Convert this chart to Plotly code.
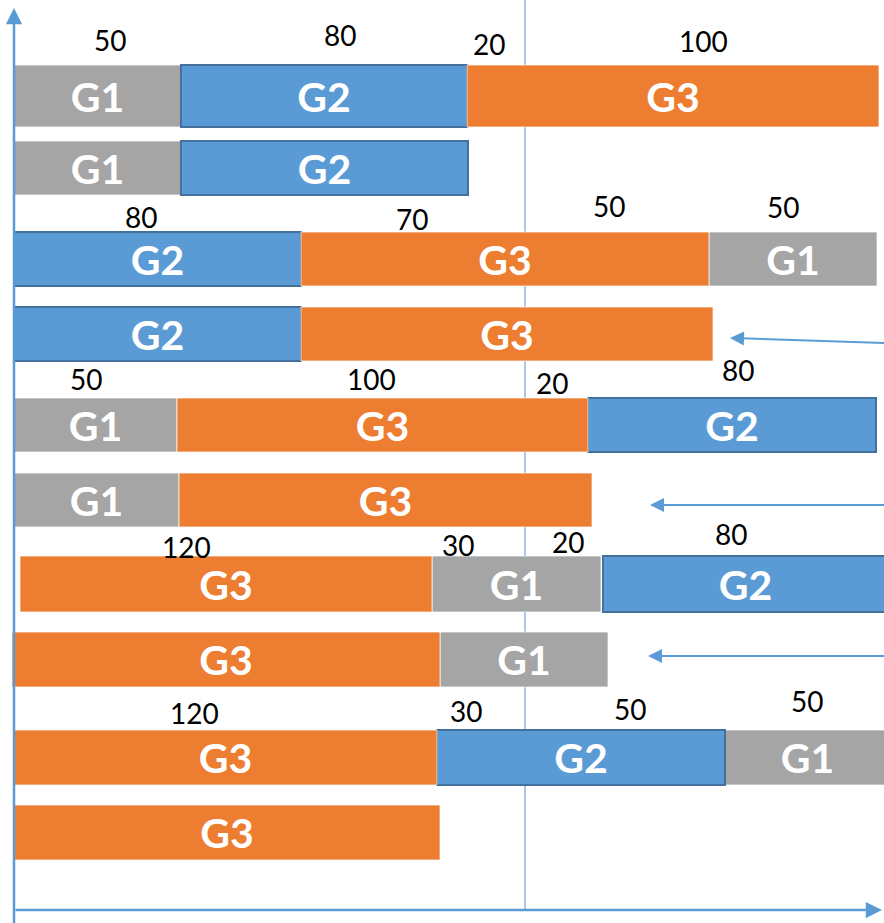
"""
Schedule sketch: three job groups (G1, G2, G3) laid out along a time axis,
ten rows, with the durations written above the first row of each pair.
"""

import plotly.graph_objects as go

# ─────────────────────────────────────────────────────────────────────────────
# DATA
# ─────────────────────────────────────────────────────────────────────────────

# row centres (top to bottom) and bar thickness per row
row_y      = [96, 168, 259, 334, 425, 500, 584, 659.5, 757.5, 832.5]
row_height = [62, 54, 54, 54, 54, 54, 56, 55, 55, 55]

# each group: which row, start, length (time units)
g1_rows  = [0, 1, 2, 4, 5, 6, 7, 8]
g1_start = [0, 0, 695, 0, 0, 418, 426, 711]
g1_len   = [167, 167, 168, 163, 165, 169, 168, 165]

g2_rows  = [0, 1, 2, 3, 4, 6, 8]
g2_start = [167, 167, 0, 0, 574, 589, 423]
g2_len   = [286, 287, 287, 287, 288, 285, 288]

g3_rows  = [0, 2, 3, 4, 5, 6, 7, 8, 9]
g3_start = [453, 287, 287, 163, 165, 6, -2, 0, 0]
g3_len   = [412, 408, 412, 411, 413, 412, 428, 423, 426]

# duration labels written above the bars
dur_text = ["50", "80", "20", "100",
            "80", "70", "50", "50",
            "50", "100", "20", "80",
            "120", "30", "20", "80",
            "120", "30", "50", "50"]
dur_x    = [96, 326, 475, 689,
            127, 398, 595, 769,
            72, 357, 538, 724,
            172, 444, 554, 717,
            180, 452, 616, 793]
dur_y    = [40, 35, 44, 41,
            217, 219, 206, 207,
            379, 379, 383, 370,
            547, 545, 542, 534,
            713, 711, 709, 701]

# incoming arrows (tip x, y) — tails sit at the right edge
arrow_tip_x  = [716, 636, 634]
arrow_tip_y  = [338, 505, 656]
arrow_tail_x = [872, 872, 872]
arrow_tail_y = [343, 505, 656]

# reference time marker
marker_x = 511

# ─────────────────────────────────────────────────────────────────────────────
# STYLE
# ─────────────────────────────────────────────────────────────────────────────

GRAY   = "#A5A5A5"
BLUE   = "#5B9BD5"
ORANGE = "#ED7D31"
AXIS   = "#5B9BD5"
FONT   = "Lato"

groups = [
    ("G1", g1_rows, g1_start, g1_len, GRAY,   dict(color="rgba(255,255,255,0.7)", width=1)),
    ("G2", g2_rows, g2_start, g2_len, BLUE,   dict(color="#41719C", width=2)),
    ("G3", g3_rows, g3_start, g3_len, ORANGE, dict(color="rgba(255,255,255,0.7)", width=1)),
]

fig = go.Figure()

for name, rows, starts, lens, color, outline in groups:
    fig.add_trace(
        go.Bar(
            orientation      = "h",
            y                = [row_y[r] for r in rows],
            x                = lens,
            base             = starts,
            width            = [row_height[r] for r in rows],
            name             = name,
            text             = [name] * len(rows),
            textposition     = "inside",
            insidetextanchor = "middle",
            constraintext    = "none",
            textfont         = dict(family=FONT, size=41, color="white", weight="bold"),
            marker           = dict(color=color, line=outline),
            showlegend       = False,
        )
    )

# duration numbers
for t, x, y in zip(dur_text, dur_x, dur_y):
    fig.add_annotation(
        x=x, y=y, xref="x", yref="y", text=t, showarrow=False,
        font=dict(family=FONT, size=28, color="black"),
    )

# incoming arrows
for tx, ty, ax, ay in zip(arrow_tip_x, arrow_tip_y, arrow_tail_x, arrow_tail_y):
    fig.add_annotation(
        x=tx, y=ty, ax=ax, ay=ay,
        xref="x", yref="y", axref="x", ayref="y",
        text="", showarrow=True, arrowhead=2, arrowsize=1.4,
        arrowwidth=2, arrowcolor=AXIS, standoff=0,
    )

# axes drawn as arrows
fig.add_annotation(
    x=0, y=8, ax=0, ay=925, xref="x", yref="y", axref="x", ayref="y",
    text="", showarrow=True, arrowhead=2, arrowsize=1.3,
    arrowwidth=2.5, arrowcolor=AXIS, standoff=0,
)
fig.add_annotation(
    x=868, y=910, ax=0, ay=910, xref="x", yref="y", axref="x", ayref="y",
    text="", showarrow=True, arrowhead=2, arrowsize=1.3,
    arrowwidth=2.5, arrowcolor=AXIS, standoff=0,
)

# reference marker, behind the bars
fig.add_shape(
    type="line", x0=marker_x, x1=marker_x, y0=0, y1=910,
    xref="x", yref="y", layer="below",
    line=dict(color="#8DB4E2", width=1.5),
)

fig.update_layout(
    width         = 884,
    height        = 923,
    margin        = dict(l=0, r=0, t=0, b=0),
    paper_bgcolor = "white",
    plot_bgcolor  = "rgba(0,0,0,0)",
    barmode       = "overlay",
    xaxis         = dict(range=[-14, 870], visible=False, fixedrange=True),
    yaxis         = dict(range=[923, 0], visible=False, fixedrange=True),
)

# drop the default body margin so the figure fills the window exactly
fig.write_html(
    "out.html",
    config      = {"displayModeBar": False},
    post_script = "document.body.style.margin = '0';",
)
